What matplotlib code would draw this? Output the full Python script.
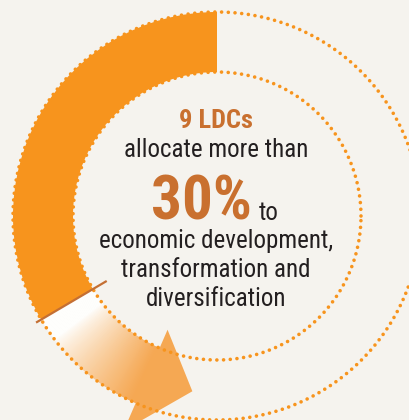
import numpy as np
import matplotlib.pyplot as plt
from matplotlib.patches import Wedge, Polygon
from matplotlib.colors import to_rgb

# ring data (angles in degrees, counter-clockwise from 3 o'clock)
share_start = 90.0
share_end = 210.5          # end of the solid orange share
arrow_end = 246.5          # where the faded tail meets the arrow head
tip_angle = 262.0
ldc_count = 9
pct = 30

headline = f"{ldc_count} LDCs"
line1 = "allocate more than"
big = f"{pct}%"
after_big = "to"
tail_lines = ["economic development,", "transformation and", "diversification"]

orange = "#f7941d"
light_orange = "#f5a853"
rust = "#c9702f"
dark = "#231f20"
bg = "#f5f3ee"

cx, cy = 217, 204
r_out, r_in = 204, 144

fig = plt.figure(figsize=(4.09, 4.20), dpi=100, facecolor=bg)
ax = fig.add_axes([0, 0, 1, 1])
ax.set_xlim(0, 409)
ax.set_ylim(0, 420)
ax.set_aspect("equal")
ax.axis("off")
ax.set_facecolor(bg)

# faded tail: thin wedges going from white to light orange
white = np.array(to_rgb("#fefefc"))
lo = np.array(to_rgb(light_orange))
angles = np.linspace(share_end, arrow_end, 90)
for a0, a1 in zip(angles[:-1], angles[1:]):
    t = np.clip((a0 - 217) / (245 - 217), 0, 1) ** 0.8
    col = white * (1 - t) + lo * t
    ax.add_patch(Wedge((cx, cy), r_out, a0, a1 + 0.3, width=r_out - r_in,
                       facecolor=col, edgecolor="none"))

# arrow head
def polar(r, deg):
    th = np.radians(deg)
    return cx + r * np.cos(th), cy + r * np.sin(th)

head = [polar(124, arrow_end), polar(234, arrow_end), polar(177, tip_angle)]
ax.add_patch(Polygon(head, closed=True, facecolor=light_orange, edgecolor="none"))

# dotted guide circles
th = np.linspace(0, 2 * np.pi, 800)
for r in (r_out, r_in):
    ax.plot(cx + r * np.cos(th), cy + r * np.sin(th), color=orange, lw=2.6,
            linestyle=(0, (0.01, 1.85)), dash_capstyle="round")

# solid share of the ring
ax.add_patch(Wedge((cx, cy), r_out, share_start, share_end, width=r_out - r_in,
                   facecolor=orange, edgecolor="none"))

# marker at the end of the share
x0, y0 = polar(128, share_end)
x1, y1 = polar(210, share_end)
ax.plot([x0, x1], [y0, y1], color="#c46f33", lw=1.6, solid_capstyle="butt")

font = ["Roboto Condensed", "IBM Plex Sans Condensed", "DejaVu Sans"]
ax.text(216, 420 - 128, headline, ha="center", va="baseline", fontsize=19,
        fontweight="bold", color=rust, family=font)
ax.text(216, 420 - 157, line1, ha="center", va="baseline", fontsize=18,
        color=dark, family=font)
ax.text(252, 420 - 220, big, ha="right", va="baseline", fontsize=44,
        fontweight="bold", color=rust, family=font)
ax.text(259, 420 - 220, after_big, ha="left", va="baseline", fontsize=18,
        color=dark, family=font)
for i, s in enumerate(tail_lines):
    ax.text(216, 420 - 248 - 29 * i, s, ha="center", va="baseline", fontsize=18,
            color=dark, family=font)

fig.savefig("out.png", dpi=100, facecolor=bg)
